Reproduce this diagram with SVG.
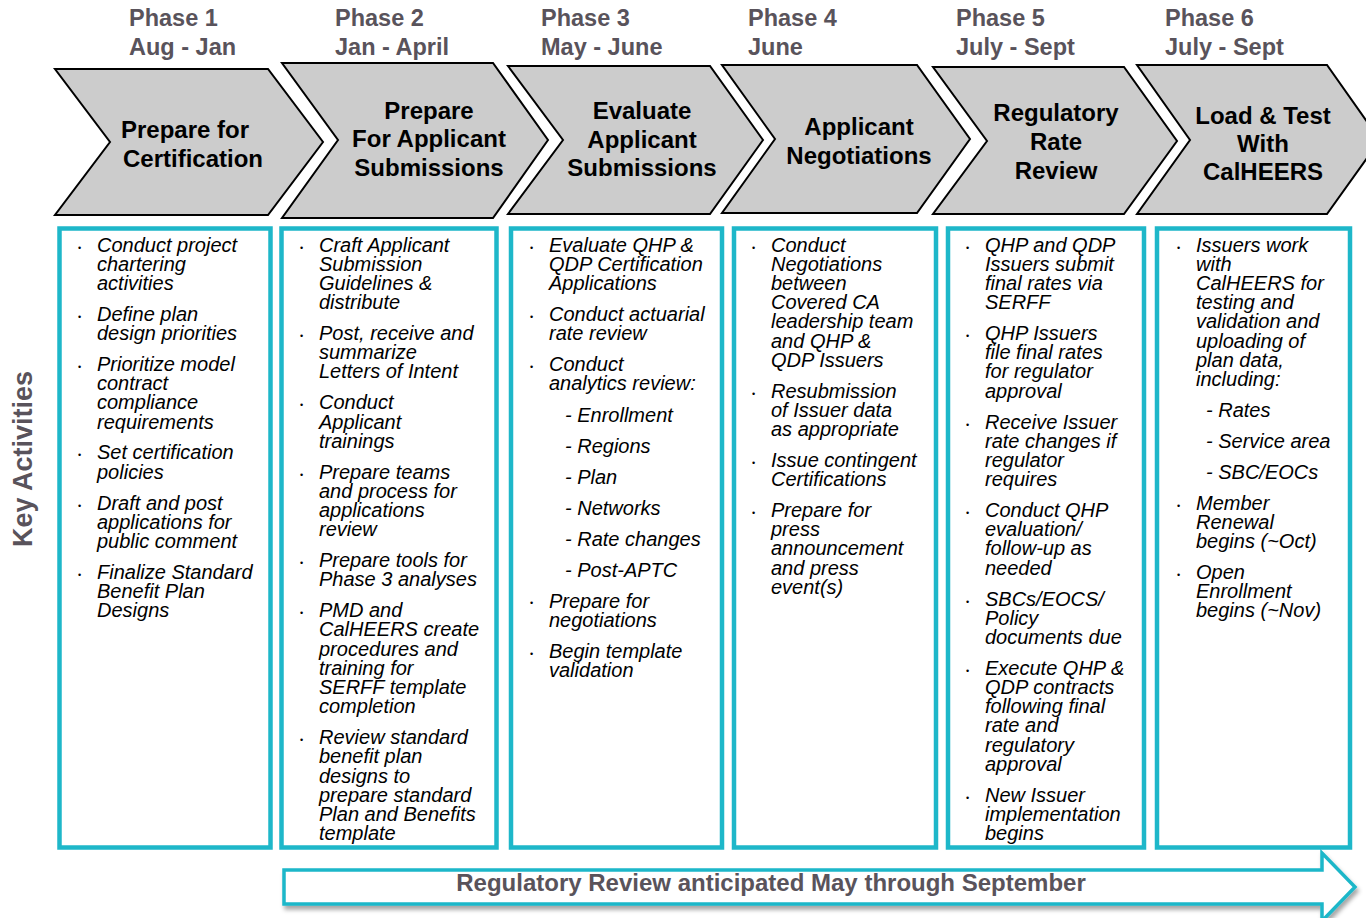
<svg xmlns="http://www.w3.org/2000/svg" width="1366" height="918" viewBox="0 0 1366 918">
  <defs>
    <style>
      .phase { font-family: "Liberation Sans", Arial, sans-serif; font-weight: bold; font-size: 23.5px; fill: #59535b; }
      .chev { fill: #cccccc; stroke: #000000; stroke-width: 2; stroke-linejoin: miter; }
      .chev-label { font-family: "Liberation Sans", Arial, sans-serif; font-weight: bold; font-size: 24px; fill: #000000; text-anchor: middle; }
      .box { fill: #ffffff; stroke: #1eb7c9; stroke-width: 4.5; }
      .item { font-family: "Liberation Sans", Arial, sans-serif; font-style: italic; font-size: 20px; fill: #000000; }
      .dot { font-family: "Liberation Sans", Arial, sans-serif; font-size: 9px; fill: #000000; }
      .side { font-family: "Liberation Sans", Arial, sans-serif; font-weight: bold; font-size: 27px; fill: #59535b; text-anchor: middle; }
      .band { fill: #ffffff; stroke: #1eb7c9; stroke-width: 3.5; stroke-linejoin: miter; }
      .band-label { font-family: "Liberation Sans", Arial, sans-serif; font-weight: bold; font-size: 24px; fill: #59535b; text-anchor: middle; }
    </style>
    <filter id="softShadow" x="-5%" y="-30%" width="110%" height="170%">
      <feDropShadow dx="2" dy="4" stdDeviation="2.2" flood-color="#000000" flood-opacity="0.35"/>
    </filter>
  </defs>

  <rect width="1366" height="918" fill="#ffffff"/>

  <!-- Side heading -->
  <text class="side" transform="translate(32,459) rotate(-90)">Key Activities</text>

  <!-- Phase 1 -->
  <g id="phase-1">
    <text class="phase" x="129" y="26">Phase 1</text>
    <text class="phase" x="129" y="55">Aug - Jan</text>
    <path class="chev" d="M55,69 L268,69 L323,142 L268,215 L55,215 L110,142 Z"/>
    <text class="chev-label" x="185" y="138">Prepare for</text>
    <text class="chev-label" x="193" y="166.5">Certification</text>
    <rect class="box" x="59.5" y="228.5" width="211" height="619"/>
    <g class="dot">
      <text x="78" y="250.5">•</text><text x="78" y="319.8">•</text><text x="78" y="369.9">•</text>
      <text x="78" y="458.4">•</text><text x="78" y="508.5">•</text><text x="78" y="577.8">•</text>
    </g>
    <text class="item" x="97" y="251.5">Conduct project<tspan x="97" dy="19.2">chartering</tspan><tspan x="97" dy="19.2">activities</tspan></text>
    <text class="item" x="97" y="320.8">Define plan<tspan x="97" dy="19.2">design priorities</tspan></text>
    <text class="item" x="97" y="370.9">Prioritize model<tspan x="97" dy="19.2">contract</tspan><tspan x="97" dy="19.2">compliance</tspan><tspan x="97" dy="19.2">requirements</tspan></text>
    <text class="item" x="97" y="459.4">Set certification<tspan x="97" dy="19.2">policies</tspan></text>
    <text class="item" x="97" y="509.5">Draft and post<tspan x="97" dy="19.2">applications for</tspan><tspan x="97" dy="19.2">public comment</tspan></text>
    <text class="item" x="97" y="578.8">Finalize Standard<tspan x="97" dy="19.2">Benefit Plan</tspan><tspan x="97" dy="19.2">Designs</tspan></text>
  </g>

  <!-- Phase 2 -->
  <g id="phase-2">
    <text class="phase" x="335" y="26">Phase 2</text>
    <text class="phase" x="335" y="55">Jan - April</text>
    <path class="chev" d="M282,63 L493,63 L548,140 L493,218 L282,218 L338,140 Z"/>
    <text class="chev-label" x="429" y="119">Prepare</text>
    <text class="chev-label" x="429" y="147">For Applicant</text>
    <text class="chev-label" x="429" y="176">Submissions</text>
    <rect class="box" x="281.5" y="228.5" width="215" height="619"/>
    <g class="dot">
      <text x="300" y="250.5">•</text><text x="300" y="339">•</text><text x="300" y="408.3">•</text>
      <text x="300" y="477.6">•</text><text x="300" y="566.1">•</text><text x="300" y="616.2">•</text>
      <text x="300" y="743.1">•</text>
    </g>
    <text class="item" x="319" y="251.5">Craft Applicant<tspan x="319" dy="19.2">Submission</tspan><tspan x="319" dy="19.2">Guidelines &amp;</tspan><tspan x="319" dy="19.2">distribute</tspan></text>
    <text class="item" x="319" y="340">Post, receive and<tspan x="319" dy="19.2">summarize</tspan><tspan x="319" dy="19.2">Letters of Intent</tspan></text>
    <text class="item" x="319" y="409.3">Conduct<tspan x="319" dy="19.2">Applicant</tspan><tspan x="319" dy="19.2">trainings</tspan></text>
    <text class="item" x="319" y="478.6">Prepare teams<tspan x="319" dy="19.2">and process for</tspan><tspan x="319" dy="19.2">applications</tspan><tspan x="319" dy="19.2">review</tspan></text>
    <text class="item" x="319" y="567.1">Prepare tools for<tspan x="319" dy="19.2">Phase 3 analyses</tspan></text>
    <text class="item" x="319" y="617.2">PMD and<tspan x="319" dy="19.2">CalHEERS create</tspan><tspan x="319" dy="19.2">procedures and</tspan><tspan x="319" dy="19.2">training for</tspan><tspan x="319" dy="19.2">SERFF template</tspan><tspan x="319" dy="19.2">completion</tspan></text>
    <text class="item" x="319" y="744.1">Review standard<tspan x="319" dy="19.2">benefit plan</tspan><tspan x="319" dy="19.2">designs to</tspan><tspan x="319" dy="19.2">prepare standard</tspan><tspan x="319" dy="19.2">Plan and Benefits</tspan><tspan x="319" dy="19.2">template</tspan></text>
  </g>

  <!-- Phase 3 -->
  <g id="phase-3">
    <text class="phase" x="541" y="26">Phase 3</text>
    <text class="phase" x="541" y="55">May - June</text>
    <path class="chev" d="M508,66 L710,66 L763,140 L710,214 L508,214 L563,140 Z"/>
    <text class="chev-label" x="642" y="119">Evaluate</text>
    <text class="chev-label" x="642" y="147.5">Applicant</text>
    <text class="chev-label" x="642" y="176">Submissions</text>
    <rect class="box" x="511" y="228.5" width="211" height="619"/>
    <g class="dot">
      <text x="530" y="250.5">•</text><text x="530" y="319.8">•</text><text x="530" y="369.9">•</text>
      <text x="530" y="606.4">•</text><text x="530" y="656.5">•</text>
    </g>
    <text class="item" x="549" y="251.5">Evaluate QHP &amp;<tspan x="549" dy="19.2">QDP Certification</tspan><tspan x="549" dy="19.2">Applications</tspan></text>
    <text class="item" x="549" y="320.8">Conduct actuarial<tspan x="549" dy="19.2">rate review</tspan></text>
    <text class="item" x="549" y="370.9">Conduct<tspan x="549" dy="19.2">analytics review:</tspan></text>
    <text class="item" x="565" y="421.5">- Enrollment</text>
    <text class="item" x="565" y="452.6">- Regions</text>
    <text class="item" x="565" y="483.7">- Plan</text>
    <text class="item" x="565" y="514.8">- Networks</text>
    <text class="item" x="565" y="545.9">- Rate changes</text>
    <text class="item" x="565" y="577">- Post-APTC</text>
    <text class="item" x="549" y="607.5">Prepare for<tspan x="549" dy="19.2">negotiations</tspan></text>
    <text class="item" x="549" y="658">Begin template<tspan x="549" dy="19.2">validation</tspan></text>
  </g>

  <!-- Phase 4 -->
  <g id="phase-4">
    <text class="phase" x="748" y="26">Phase 4</text>
    <text class="phase" x="748" y="55">June</text>
    <path class="chev" d="M722,65 L917,65 L970,139 L917,213 L722,213 L775,139 Z"/>
    <text class="chev-label" x="859" y="135">Applicant</text>
    <text class="chev-label" x="859" y="163.5">Negotiations</text>
    <rect class="box" x="734" y="228.5" width="202" height="619"/>
    <g class="dot">
      <text x="752" y="250.5">•</text><text x="752" y="396.6">•</text><text x="752" y="465.9">•</text>
      <text x="752" y="516">•</text>
    </g>
    <text class="item" x="771" y="251.5">Conduct<tspan x="771" dy="19.2">Negotiations</tspan><tspan x="771" dy="19.2">between</tspan><tspan x="771" dy="19.2">Covered CA</tspan><tspan x="771" dy="19.2">leadership team</tspan><tspan x="771" dy="19.2">and QHP &amp;</tspan><tspan x="771" dy="19.2">QDP Issuers</tspan></text>
    <text class="item" x="771" y="397.6">Resubmission<tspan x="771" dy="19.2">of Issuer data</tspan><tspan x="771" dy="19.2">as appropriate</tspan></text>
    <text class="item" x="771" y="466.9">Issue contingent<tspan x="771" dy="19.2">Certifications</tspan></text>
    <text class="item" x="771" y="517">Prepare for<tspan x="771" dy="19.2">press</tspan><tspan x="771" dy="19.2">announcement</tspan><tspan x="771" dy="19.2">and press</tspan><tspan x="771" dy="19.2">event(s)</tspan></text>
  </g>

  <!-- Phase 5 -->
  <g id="phase-5">
    <text class="phase" x="956" y="26">Phase 5</text>
    <text class="phase" x="956" y="55">July - Sept</text>
    <path class="chev" d="M933,67 L1124,67 L1177,141 L1124,214 L933,214 L987,141 Z"/>
    <text class="chev-label" x="1056" y="120.5">Regulatory</text>
    <text class="chev-label" x="1056" y="150">Rate</text>
    <text class="chev-label" x="1056" y="178.5">Review</text>
    <rect class="box" x="948" y="228.5" width="196" height="619"/>
    <g class="dot">
      <text x="966" y="250.5">•</text><text x="966" y="339">•</text><text x="966" y="427.5">•</text>
      <text x="966" y="516">•</text><text x="966" y="604.5">•</text><text x="966" y="673.8">•</text>
      <text x="966" y="800.7">•</text>
    </g>
    <text class="item" x="985" y="251.5">QHP and QDP<tspan x="985" dy="19.2">Issuers submit</tspan><tspan x="985" dy="19.2">final rates via</tspan><tspan x="985" dy="19.2">SERFF</tspan></text>
    <text class="item" x="985" y="340">QHP Issuers<tspan x="985" dy="19.2">file final rates</tspan><tspan x="985" dy="19.2">for regulator</tspan><tspan x="985" dy="19.2">approval</tspan></text>
    <text class="item" x="985" y="428.5">Receive Issuer<tspan x="985" dy="19.2">rate changes if</tspan><tspan x="985" dy="19.2">regulator</tspan><tspan x="985" dy="19.2">requires</tspan></text>
    <text class="item" x="985" y="517">Conduct QHP<tspan x="985" dy="19.2">evaluation/</tspan><tspan x="985" dy="19.2">follow-up as</tspan><tspan x="985" dy="19.2">needed</tspan></text>
    <text class="item" x="985" y="605.5">SBCs/EOCS/<tspan x="985" dy="19.2">Policy</tspan><tspan x="985" dy="19.2">documents due</tspan></text>
    <text class="item" x="985" y="674.8">Execute QHP &amp;<tspan x="985" dy="19.2">QDP contracts</tspan><tspan x="985" dy="19.2">following final</tspan><tspan x="985" dy="19.2">rate and</tspan><tspan x="985" dy="19.2">regulatory</tspan><tspan x="985" dy="19.2">approval</tspan></text>
    <text class="item" x="985" y="801.7">New Issuer<tspan x="985" dy="19.2">implementation</tspan><tspan x="985" dy="19.2">begins</tspan></text>
  </g>

  <!-- Phase 6 -->
  <g id="phase-6">
    <text class="phase" x="1165" y="26">Phase 6</text>
    <text class="phase" x="1165" y="55">July - Sept</text>
    <path class="chev" d="M1137,65 L1327,65 L1380,140 L1327,214 L1137,214 L1190,140 Z"/>
    <text class="chev-label" x="1263" y="123.5">Load &amp; Test</text>
    <text class="chev-label" x="1263" y="152">With</text>
    <text class="chev-label" x="1263" y="180">CalHEERS</text>
    <rect class="box" x="1157" y="228.5" width="193" height="619"/>
    <g class="dot">
      <text x="1177" y="250.5">•</text><text x="1177" y="508.5">•</text><text x="1177" y="577.8">•</text>
    </g>
    <text class="item" x="1196" y="251.5">Issuers work<tspan x="1196" dy="19.2">with</tspan><tspan x="1196" dy="19.2">CalHEERS for</tspan><tspan x="1196" dy="19.2">testing and</tspan><tspan x="1196" dy="19.2">validation and</tspan><tspan x="1196" dy="19.2">uploading of</tspan><tspan x="1196" dy="19.2">plan data,</tspan><tspan x="1196" dy="19.2">including:</tspan></text>
    <text class="item" x="1206" y="416.8">- Rates</text>
    <text class="item" x="1206" y="447.7">- Service area</text>
    <text class="item" x="1206" y="478.6">- SBC/EOCs</text>
    <text class="item" x="1196" y="509.5">Member<tspan x="1196" dy="19.2">Renewal</tspan><tspan x="1196" dy="19.2">begins (~Oct)</tspan></text>
    <text class="item" x="1196" y="578.8">Open<tspan x="1196" dy="19.2">Enrollment</tspan><tspan x="1196" dy="19.2">begins (~Nov)</tspan></text>
  </g>

  <!-- Regulatory review band -->
  <g id="regulatory-review">
    <path class="band" filter="url(#softShadow)" d="M284,870 L1322,870 L1322,853 L1355,887 L1322,921 L1322,904 L284,904 Z"/>
    <text class="band-label" x="771" y="891">Regulatory Review anticipated May through September</text>
  </g>
</svg>
